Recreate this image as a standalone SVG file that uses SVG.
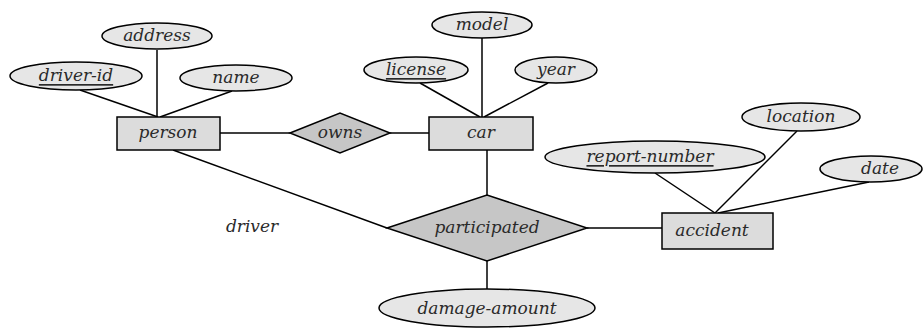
<svg xmlns="http://www.w3.org/2000/svg" width="923" height="329" viewBox="0 0 923 329">
<style>
.ent{fill:#dcdcdc;stroke:#000;stroke-width:1.5}
.rel{fill:#c6c6c6;stroke:#000;stroke-width:1.5}
.att{fill:#e6e6e6;stroke:#000;stroke-width:1.5}
.lbl{font-family:"DejaVu Serif","Liberation Serif",serif;font-style:italic;font-size:17px;fill:#2a2a2a;text-anchor:middle;dominant-baseline:central}
.key{text-decoration:underline}
.ln{stroke:#000;stroke-width:1.5;fill:none}
</style>
<rect width="923" height="329" fill="#fff"/>
<g id="connectors">
<line class="ln" x1="80" y1="90" x2="158" y2="117"/>
<line class="ln" x1="157" y1="50" x2="157" y2="117"/>
<line class="ln" x1="232" y1="91" x2="160" y2="117"/>
<line class="ln" x1="220" y1="133" x2="290" y2="133"/>
<line class="ln" x1="390" y1="133" x2="429" y2="133"/>
<line class="ln" x1="420" y1="83" x2="480" y2="117"/>
<line class="ln" x1="482" y1="38" x2="482" y2="117"/>
<line class="ln" x1="548" y1="83" x2="484" y2="117"/>
<line class="ln" x1="487" y1="150" x2="487" y2="195"/>
<line class="ln" x1="173" y1="150" x2="387" y2="228"/>
<line class="ln" x1="587" y1="228" x2="662" y2="228"/>
<line class="ln" x1="487" y1="261" x2="487" y2="289"/>
<line class="ln" x1="655" y1="173" x2="715" y2="213"/>
<line class="ln" x1="797" y1="131" x2="715" y2="213"/>
<line class="ln" x1="869" y1="182" x2="718" y2="213"/>
</g>
<g id="address"><ellipse class="att" cx="157" cy="36" rx="55" ry="13"/><text class="lbl" x="157" y="35">address</text></g>
<g id="driver-id"><ellipse class="att" cx="76" cy="76" rx="66" ry="14"/><text class="lbl key" x="76" y="75">driver-id</text></g>
<g id="name"><ellipse class="att" cx="236" cy="78" rx="56" ry="13"/><text class="lbl" x="236" y="77">name</text></g>
<g id="person"><rect class="ent" x="117" y="117" width="103" height="33"/><text class="lbl" x="168" y="132">person</text></g>
<g id="owns"><polygon class="rel" points="290,133 340,113 390,133 340,153"/><text class="lbl" x="340" y="132">owns</text></g>
<g id="model"><ellipse class="att" cx="482" cy="25" rx="50" ry="13"/><text class="lbl" x="482" y="24">model</text></g>
<g id="license"><ellipse class="att" cx="416" cy="70" rx="52" ry="13"/><text class="lbl key" x="416" y="69">license</text></g>
<g id="year"><ellipse class="att" cx="556" cy="70" rx="41" ry="13"/><text class="lbl" x="556" y="69">year</text></g>
<g id="car"><rect class="ent" x="429" y="117" width="104" height="33"/><text class="lbl" x="481" y="132">car</text></g>
<g id="participated"><polygon class="rel" points="387,228 487,195 587,228 487,261"/><text class="lbl" x="487" y="227">participated</text></g>
<g id="damage-amount"><ellipse class="att" cx="487" cy="308" rx="108" ry="19"/><text class="lbl" x="487" y="308">damage-amount</text></g>
<g id="driver"><text class="lbl" x="252" y="226">driver</text></g>
<g id="location"><ellipse class="att" cx="801" cy="117" rx="59" ry="14"/><text class="lbl" x="801" y="116">location</text></g>
<g id="report-number"><ellipse class="att" cx="655" cy="157" rx="110" ry="16"/><text class="lbl key" x="650" y="156">report-number</text></g>
<g id="date"><ellipse class="att" cx="871" cy="169" rx="51" ry="13"/><text class="lbl" x="880" y="168">date</text></g>
<g id="accident"><rect class="ent" x="662" y="213" width="111" height="36"/><text class="lbl" x="712" y="230">accident</text></g>
</svg>
